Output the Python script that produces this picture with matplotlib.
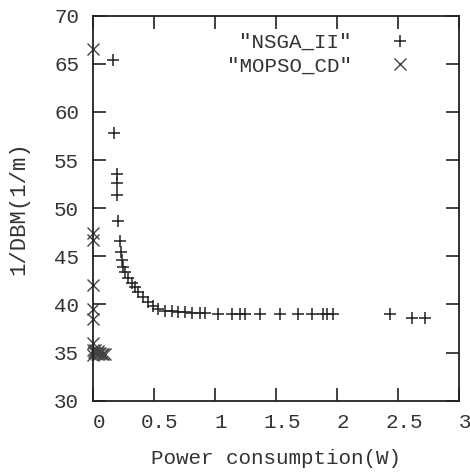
import matplotlib.pyplot as plt
import matplotlib.transforms as mtrans

# values
nsga_x = [0.166, 0.175, 0.194, 0.196, 0.198, 0.205, 0.221, 0.228, 0.234, 0.245,
          0.26, 0.29, 0.317, 0.344, 0.371, 0.41, 0.453, 0.494, 0.535, 0.59,
          0.645, 0.70, 0.754, 0.809, 0.877, 0.918, 1.027, 1.137, 1.205, 1.246,
          1.369, 1.533, 1.683, 1.793, 1.888, 1.916, 1.97, 2.434, 2.612, 2.721]
nsga_y = [65.4, 57.8, 53.6, 52.6, 51.4, 48.7, 46.6, 45.5, 44.6, 43.9,
          43.4, 42.7, 42.2, 41.8, 41.3, 40.8, 40.3, 39.8, 39.5, 39.35,
          39.3, 39.25, 39.2, 39.15, 39.1, 39.1, 39.05, 39.05, 39.0, 39.0,
          39.0, 39.0, 39.0, 39.0, 39.0, 39.0, 39.0, 39.0, 38.6, 38.55]

mopso_x = [0.0, 0.0, 0.0, 0.0, 0.0, 0.0, 0.0, 0.0, 0.01, 0.02, 0.03, 0.04,
           0.05, 0.06, 0.07, 0.08, 0.1, 0.0, 0.015, 0.045]
mopso_y = [66.5, 47.4, 46.7, 42.0, 39.5, 38.5, 36.0, 35.3, 35.1, 35.0, 34.9, 35.0,
           34.9, 35.0, 34.8, 34.9, 34.9, 34.7, 35.3, 35.2]

xticks = [0, 0.5, 1, 1.5, 2, 2.5, 3]
xticklabels = ["0", "0.5", "1", "1.5", "2", "2.5", "3"]
yticks = [30, 35, 40, 45, 50, 55, 60, 65, 70]

plt.rcParams['font.family'] = ['Liberation Mono', 'DejaVu Sans Mono']

fig = plt.figure(figsize=(4.7, 4.72), dpi=100)
ax = fig.add_axes([93/470, 1 - 400.7/472, 366/470, 385/472])

ax.plot(nsga_x, nsga_y, linestyle='none', marker='+', markersize=9,
        markeredgewidth=1.1, color='#222222', label='"NSGA_II"')
ax.plot(mopso_x, mopso_y, linestyle='none', marker='x', markersize=9,
        markeredgewidth=1.0, color='#444444', label='"MOPSO_CD"', clip_on=False)

ax.set_xlim(0, 3)
ax.set_ylim(30, 70)
ax.set_xticks(xticks)
ax.set_xticklabels(xticklabels)
ax.set_yticks(yticks)
ax.tick_params(direction='in', length=9.5, width=1.3, top=True, right=True,
               labelsize=15, colors='#333333')
ax.tick_params(axis='x', pad=9)
ax.tick_params(axis='y', pad=10)
for s in ax.spines.values():
    s.set_linewidth(1.3)
    s.set_color('#222222')

# gnuplot put the x labels a bit right of the ticks
shift = mtrans.ScaledTranslation(6/100, 0, fig.dpi_scale_trans)
for lab in ax.get_xticklabels():
    lab.set_transform(lab.get_transform() + shift)

ax.set_xlabel('Power consumption(W)', fontsize=15, color='#333333', labelpad=12)
ax.set_ylabel('1/DBM(1/m)', fontsize=16, color='#333333', labelpad=18)

ax.legend(loc='upper right', bbox_to_anchor=(0.866, 0.955), markerfirst=False,
          frameon=False, fontsize=15, borderaxespad=0, borderpad=0,
          handlelength=1.0, handletextpad=1.8, labelspacing=0.22,
          labelcolor='#333333')

fig.savefig('out.png', dpi=100)
